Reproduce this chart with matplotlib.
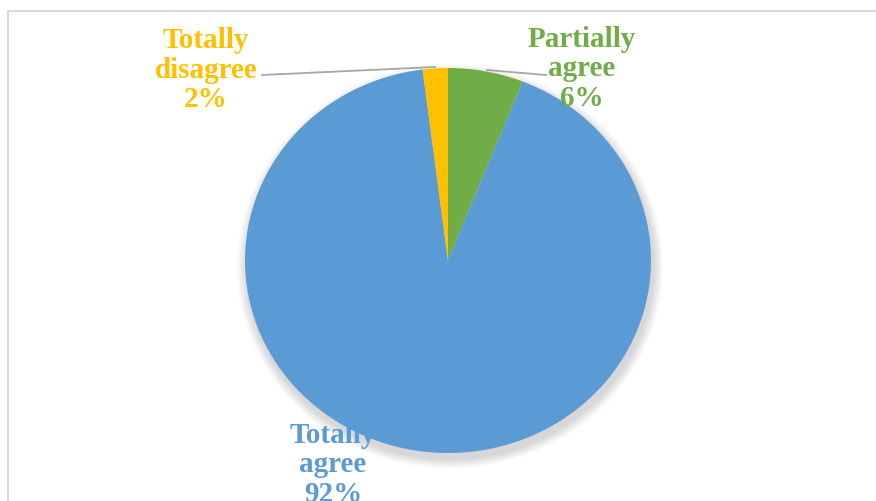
import matplotlib.pyplot as plt
from matplotlib.patches import Ellipse

# ----------------------------------------------------------
# DATA
# ----------------------------------------------------------
labels = ["Partially\nagree", "Totally\nagree", "Totally\ndisagree"]
values = [6, 92, 2]
colors = ["#70AD47", "#5B9BD5", "#FFC000"]

# ----------------------------------------------------------
# LAYOUT (pixel space of the 876x502 image)
# ----------------------------------------------------------
W, H = 876, 502
CX, CY = 448, 261.5      # pie centre in pixels
RX, RY = 203, 192.5      # pie radii in pixels (slightly squashed)


def px(x, y):
    """pixel position -> data coords of the pie axes"""
    return (x - CX) / RX, (CY - y) / RY


plt.rcParams["font.family"] = ["Liberation Serif", "DejaVu Serif"]

fig = plt.figure(figsize=(W / 100, H / 100), dpi=100)
ax = fig.add_axes([0, 0, 1, 1])

wedges, _ = ax.pie(values, colors=colors, startangle=90, counterclock=False,
                   radius=1, center=(0, 0),
                   wedgeprops=dict(linewidth=0))
for w in wedges:
    w.set_zorder(5)

ax.set_aspect("auto")
x0, ytop = px(0, 0)
x1, ybot = px(W, H)
ax.set_xlim(x0, x1)
ax.set_ylim(ybot, ytop)
ax.axis("off")

# soft shadow under the pie
for i in range(10):
    s = 1.0 + 0.005 * (i + 1)
    ax.add_patch(Ellipse((0.01, -0.03), 2 * s, 2 * s, facecolor="black",
                         edgecolor="none", alpha=0.016, zorder=3))

# chart frame (only top and left are inside the crop)
fx0, fy0 = px(8, 12)
fx1, fy1 = px(W + 5, H + 5)
ax.plot([fx1, fx0, fx0], [fy0, fy0, fy1], color="#D9D9D9", lw=1.5,
        zorder=1, clip_on=False)

# data labels
pct = [f"{v}%" for v in values]
label_pos = [(582, 69), (333, 465), (206, 70)]
for lab, p, c, (lx, ly) in zip(labels, pct, colors, label_pos):
    tx, ty = px(lx, ly)
    ax.text(tx, ty, f"{lab}\n{p}", color=c, fontsize=21, fontweight="bold",
            ha="center", va="center", linespacing=1.1,
            zorder=4 if lab == "Totally\nagree" else 7)

# leader lines
for (ax0, ay0), (ax1, ay1) in [((262, 76), (435, 68)), ((487, 71), (546, 76))]:
    a, b = px(ax0, ay0)
    c, d = px(ax1, ay1)
    ax.plot([a, c], [b, d], color="#A6A6A6", lw=1.3, zorder=6)

fig.savefig("out.png", dpi=100)
plt.close(fig)
